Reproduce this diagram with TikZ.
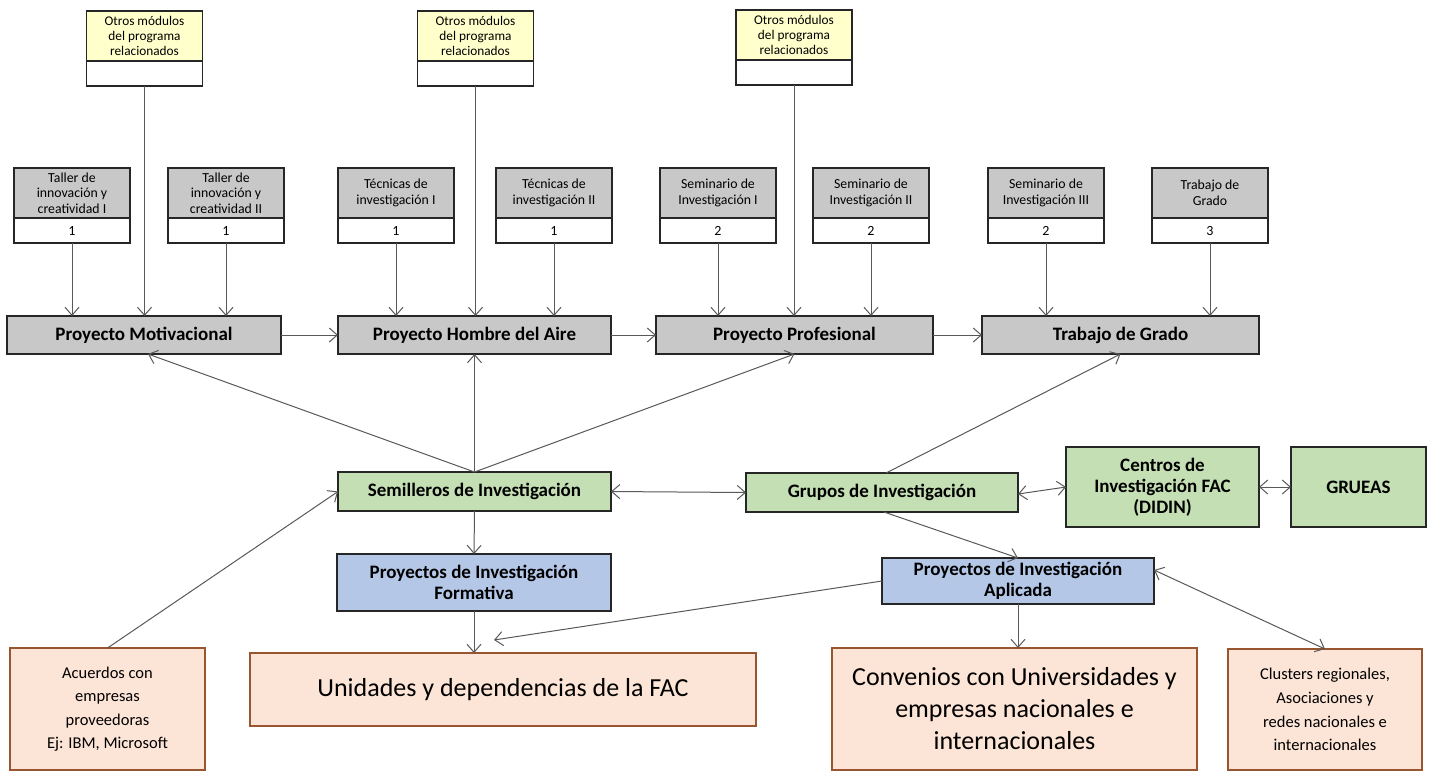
\documentclass[tikz,border=0pt]{standalone}
\usepackage{fontspec}
\setmainfont{Carlito}
\usetikzlibrary{arrows.meta}
\definecolor{cyel}{HTML}{FFFFCC}
\definecolor{cgray}{HTML}{C8C8C8}
\definecolor{cgreen}{HTML}{C4DFB3}
\definecolor{cblue}{HTML}{B4C7E7}
\definecolor{cpeach}{HTML}{FCE4D6}
\definecolor{cbrown}{HTML}{985530}
\definecolor{cline}{HTML}{595959}
\begin{document}
\begin{tikzpicture}[x=1pt,y=-1pt,
 box/.style={draw=black!85, line width=1.6pt, align=center, inner sep=1pt, outer sep=0pt},
 ytop/.style={box, fill=cyel, minimum width=116pt, minimum height=50pt, font=\fontsize{13.3}{15.2}\selectfont},
 ybot/.style={box, fill=white, minimum width=116pt, minimum height=25pt},
 gtop/.style={box, fill=cgray, minimum width=116pt, minimum height=50pt, font=\fontsize{13.8}{15.5}\selectfont},
 gbot/.style={box, fill=white, minimum width=116pt, minimum height=25pt, font=\fontsize{14}{15}\selectfont},
 mainbox/.style={box, fill=cgray, minimum height=38pt, font=\bfseries\fontsize{19}{21}\selectfont},
 grn/.style={box, fill=cgreen, font=\bfseries\fontsize{19}{21}\selectfont},
 blu/.style={box, fill=cblue, font=\bfseries\fontsize{19}{21}\selectfont},
 pch/.style={box, draw=cbrown, line width=1.4pt, fill=cpeach},
 conn/.style={draw=cline, line width=1pt, -{Straight Barb[length=8pt,width=14pt]}},
 dconn/.style={draw=cline, line width=1pt, {Straight Barb[length=8pt,width=14pt]}-{Straight Barb[length=8pt,width=14pt]}}
]
\useasboundingbox[fill=white] (0,0) rectangle (1431,772);

% yellow boxes
\node[ytop] (y1t) at (144.5,36) {Otros módulos\\del programa\\relacionados};
\node[ybot] (y1b) at (144.5,73.5) {};
\node[ytop] (y2t) at (475.5,36) {Otros módulos\\del programa\\relacionados};
\node[ybot] (y2b) at (475.5,73.5) {};
\node[ytop] (y3t) at (794,35) {Otros módulos\\del programa\\relacionados};
\node[ybot] (y3b) at (794,72.5) {};

% gray small boxes
\node[gtop] (g1t) at (72,193) {Taller de\\innovación y\\creatividad I};
\node[gbot] (g1b) at (72,230.5) {1};
\node[gtop] (g2t) at (226,193) {Taller de\\innovación y\\creatividad II};
\node[gbot] (g2b) at (226,230.5) {1};
\node[gtop] (g3t) at (396,193) {Técnicas de\\investigación I};
\node[gbot] (g3b) at (396,230.5) {1};
\node[gtop] (g4t) at (554,193) {Técnicas de\\investigación II};
\node[gbot] (g4b) at (554,230.5) {1};
\node[gtop] (g5t) at (718,193) {Seminario de\\Investigación I};
\node[gbot] (g5b) at (718,230.5) {2};
\node[gtop] (g6t) at (871,193) {Seminario de\\Investigación II};
\node[gbot] (g6b) at (871,230.5) {2};
\node[gtop] (g7t) at (1046,193) {Seminario de\\Investigación III};
\node[gbot] (g7b) at (1046,230.5) {2};
\node[gtop] (g8t) at (1210,193) {Trabajo de\\Grado};
\node[gbot] (g8b) at (1210,230.5) {3};

% main row
\node[mainbox, minimum width=274pt] (pm) at (144,335) {Proyecto Motivacional};
\node[mainbox, minimum width=273pt] (pha) at (474.5,335) {Proyecto Hombre del Aire};
\node[mainbox, minimum width=277pt] (pp) at (794.5,335) {Proyecto Profesional};
\node[mainbox, minimum width=277pt] (tg) at (1120.5,335) {Trabajo de Grado};

% green row
\node[grn, minimum width=273pt, minimum height=39pt] (sem) at (474.5,491.5) {Semilleros de Investigación};
\node[grn, minimum width=272pt, minimum height=39pt] (gru) at (882,492.5) {Grupos de Investigación};
\node[grn, minimum width=193pt, minimum height=80pt] (cen) at (1162.5,487) {Centros de\\Investigación FAC\\(DIDIN)};
\node[grn, minimum width=135pt, minimum height=80pt] (grueas) at (1358.5,487) {GRUEAS};

% blue row
\node[blu, minimum width=274pt, minimum height=57pt] (pif) at (474,582.5) {Proyectos de Investigación\\Formativa};
\node[blu, minimum width=272pt, minimum height=46pt, inner sep=0pt] (pia) at (1018,581) {Proyectos de Investigación\\Aplicada};

% peach row
\node[pch, minimum width=195pt, minimum height=122pt, font=\fontsize{16.5}{23.5}\selectfont] (acu) at (107.5,709) {Acuerdos con\\empresas\\proveedoras\\Ej: IBM, Microsoft};
\node[pch, minimum width=506pt, minimum height=73pt, font=\fontsize{26}{30}\selectfont] (uni) at (503,689.5) {Unidades y dependencias de la FAC};
\node[pch, minimum width=365pt, minimum height=122pt, font=\fontsize{26}{32}\selectfont] (conv) at (1014.5,709) {Convenios con Universidades y\\empresas nacionales e\\internacionales};
\node[pch, minimum width=194pt, minimum height=121pt, font=\fontsize{16.5}{23.7}\selectfont] (clu) at (1325,709.5) {Clusters regionales,\\Asociaciones y\\redes nacionales e\\internacionales};

\coordinate (ua) at (494,640);

% connectors top
\draw[conn] (y1b.south) -- (y1b.south |- pm.north);
\draw[conn] (y2b.south) -- (y2b.south |- pha.north);
\draw[conn] (y3b.south) -- (y3b.south |- pp.north);
\draw[conn] (g1b.south) -- (g1b.south |- pm.north);
\draw[conn] (g2b.south) -- (g2b.south |- pm.north);
\draw[conn] (g3b.south) -- (g3b.south |- pha.north);
\draw[conn] (g4b.south) -- (g4b.south |- pha.north);
\draw[conn] (g5b.south) -- (g5b.south |- pp.north);
\draw[conn] (g6b.south) -- (g6b.south |- pp.north);
\draw[conn] (g7b.south) -- (g7b.south |- tg.north);
\draw[conn] (g8b.south) -- (g8b.south |- tg.north);

\draw[conn] (pm.east) -- (pha.west);
\draw[conn] (pha.east) -- (pp.west);
\draw[conn] (pp.east) -- (tg.west);

% from semilleros / grupos
\draw[conn] (sem.north) -- ([xshift=4pt]pm.south);
\draw[conn] (sem.north) -- (sem.north |- pha.south);
\draw[conn] (sem.north) -- (pp.south);
\draw[conn] ([xshift=4pt]gru.north) -- (tg.south);
\draw[dconn] (sem.east) -- (gru.west);
\draw[dconn] ([yshift=-1.5pt]gru.east) -- (cen.west);
\draw[dconn] (cen.east) -- (grueas.west);
\draw[conn] ([xshift=2pt]gru.south) -- (pia.north);
\draw[conn] (sem.south) -- (pif.north);
\draw[conn] (pif.south) -- (pif.south |- uni.north);
\draw[conn] (pia.west) -- (ua);
\draw[conn] (pia.south) -- (pia.south |- conv.north);
\draw[conn] (acu.north) -- (sem.west);
\draw[dconn] ([yshift=11pt]pia.east) -- (clu.north);
\end{tikzpicture}
\end{document}
